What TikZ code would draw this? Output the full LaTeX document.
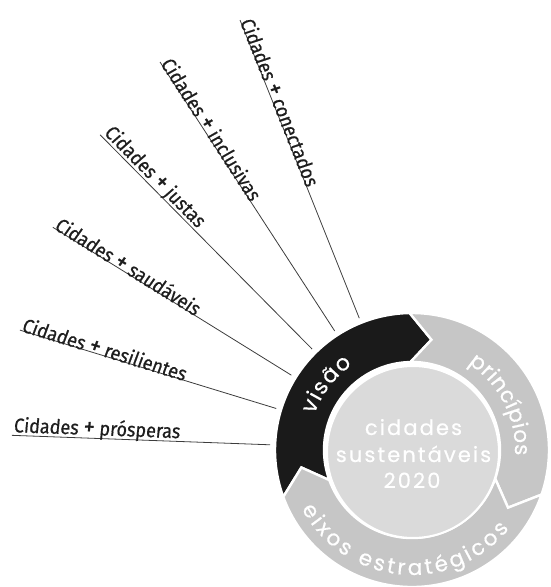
\documentclass[tikz,border=0pt]{standalone}
\usepackage{fontspec}
\setmainfont{Fira Sans}
\newfontfamily\labfont[FakeStretch=0.9,FakeSlant=0.06,FakeBold=0.6]{Fira Sans}
\newfontfamily\geofont[FakeBold=0.5]{Poppins}
\newfontfamily\geofontsp[LetterSpace=10,FakeBold=0.5]{Poppins}
\usetikzlibrary{decorations.text}
\definecolor{ringblack}{HTML}{1A1A1A}
\definecolor{ringgrey}{HTML}{C6C6C6}
\definecolor{diskgrey}{HTML}{DADADA}
\definecolor{linegrey}{HTML}{3C3C3C}
\definecolor{labtext}{HTML}{1E1E1E}
\newcommand\pls{{\fontsize{25}{25}\selectfont +}}
\newcommand\ringtxtA{\geofont\fontsize{22}{22}\selectfont\color{white}}
\newcommand\ringtxtB{\geofont\fontsize{21.5}{21.5}\selectfont\color{white}}
\begin{document}
\begin{tikzpicture}[
  seg/.style={draw=white, line width=2.4pt, line join=miter},
  labline/.style={draw=linegrey, line width=0.8pt},
  lab/.style={font=\labfont\fontsize{20}{20}\selectfont, text=labtext, sloped, anchor=south west, inner xsep=1pt, inner ysep=-1.5pt},
  centertxt/.style={font=\geofontsp\fontsize{21}{21}\selectfont, text=white, anchor=base, inner sep=0pt},
]
\useasboundingbox (0,0) rectangle (551pt,587pt);
\begin{scope}[shift={(412pt,137pt)}]
  \def\ro{137pt}\def\ri{88pt}\def\rmid{112pt}
  % ring segments (clockwise arrows)
  \filldraw[seg, fill=ringblack] (200:\ro) arc[start angle=200, end angle=91, radius=\ro]
     -- (80:\rmid) -- (91:\ri) arc[start angle=91, end angle=200, radius=\ri] -- (189:\rmid) -- cycle;
  \filldraw[seg, fill=ringgrey] (91:\ro) arc[start angle=91, end angle=-19, radius=\ro]
     -- (-31:\rmid) -- (-19:\ri) arc[start angle=-19, end angle=91, radius=\ri] -- (80:\rmid) -- cycle;
  \filldraw[seg, fill=ringgrey] (-19:\ro) arc[start angle=-19, end angle=-160, radius=\ro]
     -- (-171:\rmid) -- (-160:\ri) arc[start angle=-160, end angle=-19, radius=\ri] -- (-31:\rmid) -- cycle;
  % inner disk
  \filldraw[draw=white, line width=2pt, fill=diskgrey] (1pt,-2pt) circle[radius=86pt];
  % ring texts
  \path[decorate, decoration={text along path, text={|\ringtxtA|visão}, text align=fit to path}]
     (160:104pt) arc[start angle=160, end angle=125, radius=104pt];
  \path[decorate, decoration={text along path, text={|\ringtxtB|princípios}, text align=fit to path}]
     (57:103pt) arc[start angle=57, end angle=-3, radius=103pt];
  \path[decorate, decoration={text along path, text={|\ringtxtB|eixos estratégicos}, text align=fit to path}]
     (208:125pt) arc[start angle=208, end angle=321, radius=125pt];
  % radial line ends
  \coordinate (o1) at (111.8:463pt); \coordinate (i1) at (111.8:142pt);
  \coordinate (o2) at (123.0:462.6pt); \coordinate (i2) at (123.0:142pt);
  \coordinate (o3) at (134.7:443.4pt); \coordinate (i3) at (134.7:142pt);
  \coordinate (o4) at (148.2:422.6pt); \coordinate (i4) at (148.2:142pt);
  \coordinate (o5) at (163.0:410pt); \coordinate (i5) at (163.0:142pt);
  \coordinate (o6) at (177.9:400.3pt); \coordinate (i6) at (177.9:142pt);
\end{scope}
% center text
\node[centertxt] (t1) at (413.5pt,152pt) {cidades};
\node[centertxt] (t2) at (413.5pt,125pt) {sustentáveis};
\node[centertxt] (t3) at (412pt,99pt) {2020};
% radial lines with labels
\draw[labline] (o1) -- (i1) node[lab, pos=0] (l1) {Cidades \pls{} conectados};
\draw[labline] (o2) -- (i2) node[lab, pos=0] (l2) {Cidades \pls{} inclusivas};
\draw[labline] (o3) -- (i3) node[lab, pos=0] (l3) {Cidades \pls{} justas};
\draw[labline] (o4) -- (i4) node[lab, pos=0] (l4) {Cidades \pls{} saudáveis};
\draw[labline] (o5) -- (i5) node[lab, pos=0] (l5) {Cidades \pls{} resilientes};
\draw[labline] (o6) -- (i6) node[lab, pos=0] (l6) {Cidades \pls{} prósperas};
\end{tikzpicture}
\end{document}
